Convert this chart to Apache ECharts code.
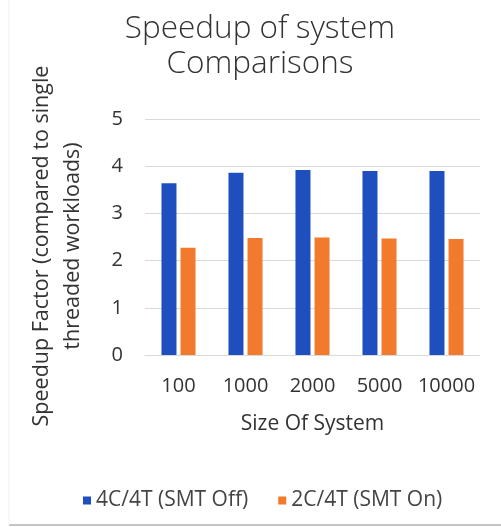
<!DOCTYPE html>
<html><head><meta charset="utf-8">
<script src="https://cdn.jsdelivr.net/npm/echarts@6/dist/echarts.min.js"></script>
<style>html,body{margin:0;padding:0;background:#fff}#c{width:501px;height:527px}</style>
</head><body><div id="c"></div>
<script>
const categories = ['100', '1000', '2000', '5000', '10000'];
const smtOff = [3.64, 3.86, 3.92, 3.90, 3.90];
const smtOn = [2.27, 2.48, 2.49, 2.47, 2.46];
const seriesNames = ['4C/4T (SMT Off)', '2C/4T (SMT On)'];
const yTicks = [0, 1, 2, 3, 4, 5];
const yAxisTitle = 'Speedup Factor (compared to single\nthreaded workloads)';

const FONT = 'Open Sans';
const chart = echarts.init(document.getElementById('c'));
chart.setOption({
  animation: false,
  title: {
    text: 'Speedup of system\nComparisons',
    left: 255, top: 7, textAlign: 'center',
    textStyle: { fontFamily: FONT, fontWeight: 300, fontSize: 31.5, color: '#333', lineHeight: 35 }
  },
  legend: {
    top: 485, left: 78, itemWidth: 8, itemHeight: 8, itemGap: 30,
    icon: 'rect',
    textStyle: { fontFamily: FONT, fontSize: 21, color: '#444' },
    data: seriesNames
  },
  grid: { left: 145, right: 21, top: 119, bottom: 172, containLabel: false },
  xAxis: {
    type: 'category', data: categories,
    name: 'Size Of System', nameLocation: 'middle', nameGap: 59,
    nameTextStyle: { fontFamily: FONT, fontSize: 21, color: '#333' },
    axisLine: { show: true, lineStyle: { color: '#d9d9d9' } },
    axisTick: { show: false },
    axisLabel: { interval: 0, hideOverlap: false, fontFamily: FONT, fontSize: 20, color: '#333', margin: 21 }
  },
  yAxis: {
    type: 'value', min: 0, max: 5, interval: 1,
    axisLine: { show: false }, axisTick: { show: false },
    splitLine: { lineStyle: { color: '#d9d9d9' } },
    axisLabel: { fontFamily: FONT, fontSize: 20, color: '#333', margin: 22,
      formatter: v => yTicks.includes(v) ? String(v) : '' }
  },
  series: [
    { name: seriesNames[0], type: 'bar', data: smtOff, barWidth: 15, barGap: '27%',
      itemStyle: { color: '#1f4fbf' } },
    { name: seriesNames[1], type: 'bar', data: smtOn, barWidth: 15, barGap: '27%',
      itemStyle: { color: '#f27a2c' } }
  ],
  graphic: [
    { type: 'text', x: 57, y: 246, rotation: Math.PI / 2,
      style: { text: yAxisTitle, fontFamily: FONT, fontSize: 21.5, fill: '#333',
        lineHeight: 31, align: 'center', verticalAlign: 'middle' } },
    { type: 'line', shape: { x1: 9, y1: 525, x2: 501, y2: 525 }, style: { stroke: '#c4c4c4', lineWidth: 2 } },
    { type: 'line', shape: { x1: 9, y1: 0, x2: 9, y2: 525 }, style: { stroke: '#f0f0f0', lineWidth: 1 } }
  ]
});
</script></body></html>
